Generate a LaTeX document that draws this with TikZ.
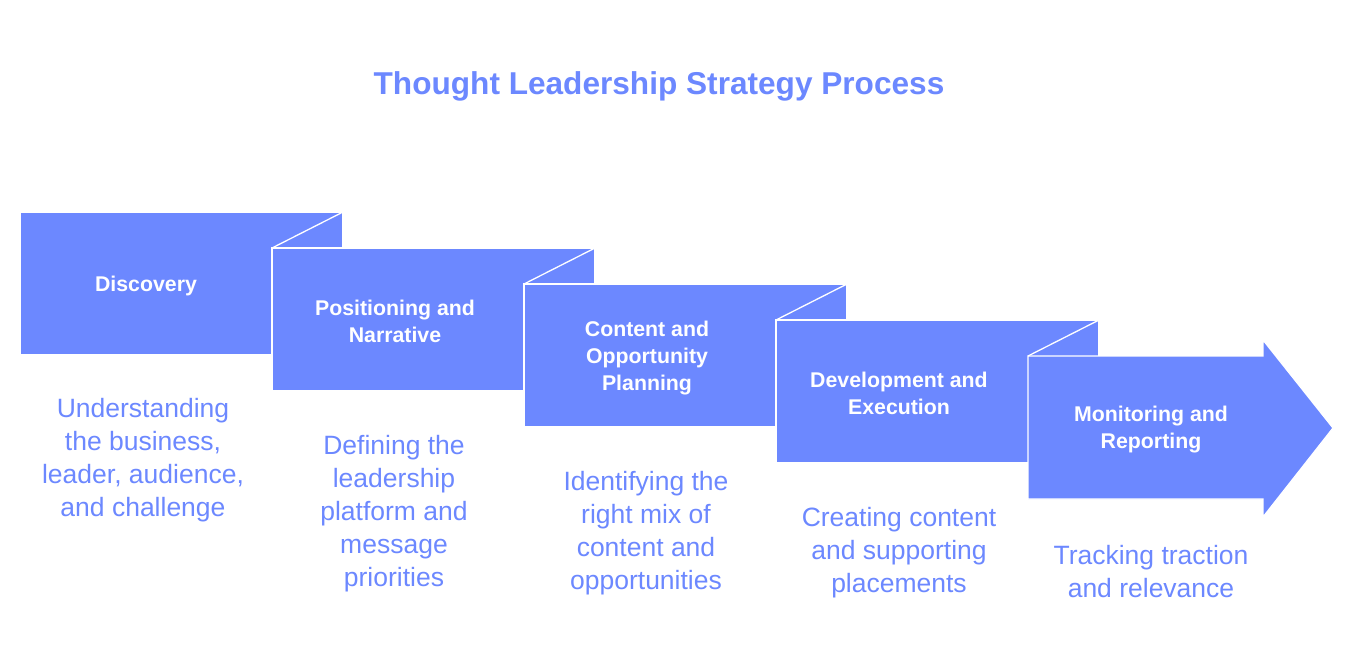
\documentclass[tikz,border=0pt]{standalone}
\usepackage{fontspec}
\setmainfont{Liberation Sans}
\definecolor{brand}{RGB}{108,136,255}
\tikzset{
  stepbox/.style={fill=brand, draw=white, line width=1.3pt, rectangle, inner sep=0pt, outer sep=0pt,
    minimum width=323pt, minimum height=143pt, anchor=north west},
  fold/.style={draw=white, line width=1.3pt},
  lbl/.style={text=white, font=\bfseries\fontsize{21.3}{27}\selectfont, align=center, inner sep=0pt},
  desc/.style={text=brand, font=\fontsize{26.5}{33}\selectfont, align=center, inner sep=0pt},
}
\begin{document}
\begin{tikzpicture}[x=1pt,y=-1pt]
\useasboundingbox (0,0) rectangle (1357,659);
\node[text=brand, font=\bfseries\fontsize{31.6}{36}\selectfont, anchor=base, inner sep=0pt] (title) at (659,94) {Thought Leadership Strategy Process};

\node[stepbox] (b1) at (20,212) {};
\node[stepbox] (b2) at (272,248) {};
\draw[fold] (b2.north west) -- (b1.north east);
\node[stepbox] (b3) at (524,284) {};
\draw[fold] (b3.north west) -- (b2.north east);
\node[stepbox] (b4) at (776,320) {};
\draw[fold] (b4.north west) -- (b3.north east);
\coordinate (b5) at (1028,356);
\draw[fill=brand, draw=white, line width=1.3pt] (b5) -- (1263,356) -- (1263,340) -- (1333,428) -- (1263,517) -- (1263,499) -- (1028,499) -- cycle;
\draw[fold] (b5) -- (b4.north east);

\node[lbl] (l1) at (146,286) {Discovery};
\node[lbl] (l2) at (395,321.5) {Positioning and\\Narrative};
\node[lbl] (l3) at (647,358) {Content and\\Opportunity\\Planning};
\node[lbl] (l4) at (899,393.5) {Development and\\Execution};
\node[lbl] (l5) at (1151,429.5) {Monitoring and\\Reporting};

\node[desc] (d1) at (143,460.5) {Understanding\\the business,\\leader, audience,\\and challenge};
\node[desc] (d2) at (394,513.5) {Defining the\\leadership\\platform and\\message\\priorities};
\node[desc] (d3) at (646,533) {Identifying the\\right mix of\\content and\\opportunities};
\node[desc] (d4) at (899,553) {Creating content\\and supporting\\placements};
\node[desc] (d5) at (1151,572) {Tracking traction\\and relevance};
\end{tikzpicture}
\end{document}
